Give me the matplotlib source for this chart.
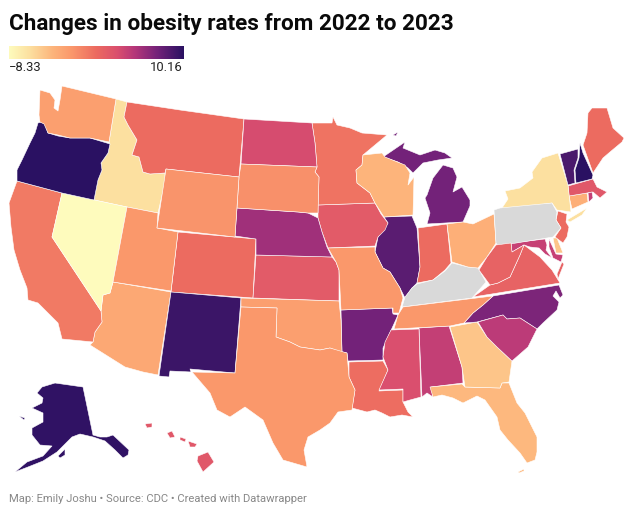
import numpy as np
import matplotlib
matplotlib.use("Agg")
import matplotlib.pyplot as plt
from matplotlib.colors import LinearSegmentedColormap, Normalize
from matplotlib.patches import Polygon

plt.rcParams['font.family'] = ['Roboto', 'DejaVu Sans']

TITLE = "Changes in obesity rates from 2022 to 2023"
FOOTER = "Map: Emily Joshu • Source: CDC • Created with Datawrapper"
VMIN, VMAX = -8.33, 10.16

states = ["AL","AK","AZ","AR","CA","CO","CT","DE","FL","GA","HI","ID","IL","IN","IA","KS","KY","LA","ME","MD",
          "MA","MI","MN","MS","MO","MT","NE","NV","NH","NJ","NM","NY","NC","ND","OH","OK","OR","PA","RI","SC",
          "SD","TN","TX","UT","VT","VA","WA","WV","WI","WY"]
values = [4.3,9.9,-2.8,7.4,0.0,0.9,-3.3,-4.6,-3.9,-4.6,2.4,-6.1,8.3,0.9,2.2,2.2,None,0.7,0.9,4.1,
          2.4,7.4,0.4,3.1,-1.7,0.9,5.7,-8.33,10.16,0.9,9.5,-6.1,7.0,3.3,-3.3,-2.2,10.16,None,4.3,4.6,
          -1.3,-1.7,-1.7,-1.7,8.9,1.5,-2.2,1.5,-3.7,-1.5]

shapes = {
 "WA":[[(40,90),(50,93),(55,100),(54,108),(58,111),(60,100),(62,86),(116,99),(109,142),(90,138),(70,138),(58,135),(48,133),(44,124),(40,122),(39,115)]],
 "OR":[[(41,122),(45,124),(48,133),(58,136),(70,138),(90,138),(110,144),(108,153),(101,163),(102,170),(98,180),(94,200),(62,193),(17,181),(17,170),(22,160),(30,143),(35,133),(38,123)]],
 "ID":[[(116,99),(127,102),(124,117),(128,125),(137,140),(132,155),(139,157),(143,172),(150,174),(165,173),(165,182),(158,213),(127,207),(94,200),(98,180),(102,170),(101,163),(108,153),(110,144),(109,142)]],
 "MT":[[(127,102),(180,110),(244,119),(239,177),(166,169),(165,173),(150,174),(143,172),(139,157),(132,155),(137,140),(128,125),(124,117)]],
 "ND":[[(244,119),(312,123),(315,143),(317,167),(241,164)]],
 "SD":[[(241,164),(317,167),(315,172),(319,177),(318,213),(308,213),(298,212),(237,208),(239,177)]],
 "WY":[[(166,169),(239,177),(235,237),(157,228)]],
 "NE":[[(237,208),(298,212),(308,213),(318,218),(322,232),(327,247),(332,257),(256,255),(256,239),(235,236)]],
 "KS":[[(256,255),(332,257),(336,262),(339,270),(339,301),(253,298)]],
 "CO":[[(178,232),(256,239),(253,298),(171,292)]],
 "UT":[[(127,207),(158,213),(157,228),(178,232),(171,291),(113,282)]],
 "NV":[[(62,193),(127,207),(113,282),(110,293),(103,295),(101,311),(52,237)]],
 "CA":[[(17,181),(62,193),(52,237),(101,311),(102,322),(95,332),(93,342),(62,339),(58,323),(52,317),(38,303),(28,300),(27,288),(20,270),(14,250),(11,227),(10,215),(9,203)]],
 "AZ":[[(113,282),(171,292),(158,375),(143,372),(125,367),(90,345),(93,342),(95,332),(102,322),(101,311),(103,295),(110,293)]],
 "NM":[[(171,292),(241,298),(235,373),(190,369),(191,372),(170,371),(169,377),(159,376)]],
 "TX":[[(241,307),(277,308),(276,337),(290,342),(300,347),(320,350),(330,348),(347,353),(349,377),(355,390),(352,410),(338,412),(330,423),(320,430),(308,437),(304,450),(307,467),(283,460),(273,443),(263,420),(245,407),(230,417),(217,410),(210,393),(192,372),(235,373)]],
 "OK":[[(241,298),(339,301),(341,320),(342,353),(330,348),(320,350),(300,347),(290,342),(276,337),(277,308),(241,307)]],
 "MN":[[(312,123),(332,123),(333,117),(337,125),(350,128),(362,133),(387,135),(363,155),(362,165),(356,170),(357,183),(370,193),(375,203),(318,205),(319,177),(315,172),(317,167),(315,143)]],
 "IA":[[(318,205),(375,203),(381,214),(388,223),(385,230),(378,237),(375,246),(328,248),(322,232),(318,218)]],
 "WI":[[(363,155),(382,153),(385,157),(405,165),(410,173),(408,185),(414,177),(413,215),(384,217),(375,203),(370,193),(357,183),(356,170),(362,165)]],
 "MI":[[(383,157),(405,142),(403,148),(420,155),(435,150),(445,153),(452,158),(438,160),(423,163),(413,173),(408,168),(398,162)],
       [(427,195),(433,178),(443,165),(453,168),(457,177),(453,192),(462,187),(470,200),(470,206),(463,222),(427,224),(430,213),(425,198)],
       [(393,135),(398,132),(396,136)]],
 "IL":[[(384,217),(412,216),(417,228),(420,267),(417,283),(412,288),(405,298),(400,288),(390,272),(383,268),(375,252),(378,237),(388,223)]],
 "IN":[[(418,228),(447,224),(451,263),(445,270),(433,280),(417,283),(420,267)]],
 "OH":[[(447,224),(463,222),(473,224),(494,214),(496,243),(487,257),(478,268),(468,267),(452,262)]],
 "KY":[[(452,263),(468,267),(478,268),(486,282),(472,298),(402,307),(405,297),(412,288),(417,284),(433,280),(445,271)]],
 "WV":[[(496,245),(511,243),(512,252),(524,245),(520,255),(510,277),(498,283),(490,285),(479,270),(487,257)]],
 "VA":[[(524,245),(540,257),(552,270),(560,283),(473,297),(490,285),(498,283),(510,277),(520,255)],
       [(562,262),(564,264),(558,279),(557,274)]],
 "MD":[[(511,243),(545,239),(547,245),(546,250),(552,258),(545,254),(539,248),(530,247),(524,245),(512,252)],
       [(549,239),(556,254),(563,255),(561,262),(553,258),(549,247)]],
 "DE":[[(553,238),(557,238),(563,253),(556,253)]],
 "PA":[[(494,210),(500,208),(552,203),(557,212),(556,220),(561,228),(553,237),(498,246),(496,243)]],
 "NJ":[[(558,211),(567,214),(566,222),(569,227),(567,237),(563,243),(555,237),(561,228),(556,220)]],
 "NY":[[(558,153),(568,185),(571,212),(557,210),(552,203),(500,211),(508,199),(505,191),(520,188),(533,178),(532,172),(542,158)],
       [(567,220),(587,208),(582,215),(570,222)]],
 "CT":[[(569,196),(587,193),(588,202),(572,209)]],
 "RI":[[(588,193),(592,192),(593,198),(589,202)]],
 "MA":[[(568,186),(593,179),(597,187),(605,191),(607,192),(600,198),(593,192),(569,196)]],
 "VT":[[(560,154),(578,149),(578,158),(574,170),(575,183),(568,185)]],
 "NH":[[(580,143),(583,153),(593,175),(592,179),(576,183),(575,170),(579,158)]],
 "ME":[[(588,113),(592,108),(607,108),(613,128),(624,138),(622,142),(610,152),(603,158),(593,173),(583,145),(587,133)]],
 "NC":[[(559,285),(563,295),(560,298),(556,291),(553,296),(559,302),(557,310),(543,323),(537,329),(520,318),(507,319),(503,315),(477,322),(464,323),(473,313),(483,305),(493,296)]],
 "SC":[[(478,322),(503,315),(507,319),(520,318),(537,329),(528,347),(512,361),(497,347),(487,337)]],
 "GA":[[(450,327),(477,322),(487,337),(497,347),(512,361),(509,382),(502,383),(500,388),(465,387),(462,367)]],
 "FL":[[(430,387),(462,384),(465,387),(500,388),(502,383),(509,383),(517,403),(525,413),(537,437),(537,452),(535,460),(527,463),(520,453),(508,440),(500,430),(497,417),(485,400),(477,396),(463,403),(453,398),(442,395),(433,397)],
       [(518,472),(524,469),(524,471),(519,473)]],
 "AL":[[(419,328),(449,326),(462,367),(463,383),(431,387),(433,397),(427,393),(422,397)]],
 "MS":[[(391,330),(419,329),(421,397),(410,400),(403,402),(403,389),(379,390),(388,370),(383,357),(385,342)]],
 "AR":[[(341,310),(392,308),(393,314),(398,315),(388,337),(383,348),(383,360),(348,361),(347,353),(342,352)]],
 "LA":[[(349,362),(383,361),(388,370),(379,391),(403,390),(403,402),(408,412),(413,417),(402,415),(390,417),(382,413),(375,410),(367,412),(352,408),(355,390),(349,377)]],
 "TN":[[(403,307),(493,296),(483,305),(473,313),(464,323),(450,326),(394,329),(398,315)]],
 "MO":[[(328,248),(375,247),(375,252),(383,268),(390,272),(400,288),(403,298),(399,313),(393,313),(393,308),(341,310),(339,270),(336,262)]],
 "AK":[[(42,387),(55,383),(83,387),(93,435),(100,437),(107,437),(113,435),(129,450),(128,455),(123,458),(115,450),(105,441),(93,437),(80,434),(72,437),(65,444),(57,452),(43,461),(28,467),(15,472),(27,462),(43,456),(52,446),(40,445),(32,435),(32,428),(43,422),(43,413),(32,408),(42,403),(43,398),(37,393)],
       [(58,456),(65,449),(65,455),(60,458)],[(19,416),(25,418),(24,420)]],
 "HI":[[(198,456),(208,452),(214,462),(203,472),(197,461)],[(188,441),(197,444),(195,447),(190,447)],
       [(180,437),(186,439),(185,442),(180,440)],[(167,433),(172,431),(175,437),(170,438)],[(145,424),(152,423),(152,427),(147,428)]],
}

cmap = LinearSegmentedColormap.from_list("obesity", [
    (0.00,"#fefbbd"),(0.12,"#fcdf9f"),(0.25,"#fdb47b"),(0.35,"#fb9a6c"),(0.50,"#ec6a60"),
    (0.62,"#da4f6e"),(0.72,"#b5367a"),(0.85,"#732279"),(1.00,"#2a1162")])
norm = Normalize(VMIN, VMAX)
NO_DATA = "#d9d9d9"

fig = plt.figure(figsize=(6.34, 5.17), dpi=100)
ax = fig.add_axes([0, 0, 1, 1])
ax.set_xlim(0, 634); ax.set_ylim(517, 0); ax.axis("off")

for st, val in zip(states, values):
    color = NO_DATA if val is None else cmap(norm(val))
    for ring in shapes[st]:
        ax.add_patch(Polygon(ring, closed=True, facecolor=color, edgecolor="white", linewidth=0.4, joinstyle="round"))

ax.text(9, 24, TITLE, fontsize=16.2, fontweight="bold", color="#0a0a0a", va="center", ha="left")
ax.text(9, 499, FOOTER, fontsize=8.1, color="#888888", va="center", ha="left")

# Colour legend
cax = fig.add_axes([9/634, 1-59/517, 174/634, 13/517])
cax.imshow(np.linspace(VMIN, VMAX, 256)[None, :], aspect="auto", cmap=cmap, norm=norm)
cax.axis("off")
ax.text(9, 67.5, "\u22128.33", fontsize=9.4, color="#222222", va="center", ha="left")
ax.text(183, 67.5, "10.16", fontsize=9.4, color="#222222", va="center", ha="right")

fig.savefig("out.png", dpi=100, facecolor="white")
